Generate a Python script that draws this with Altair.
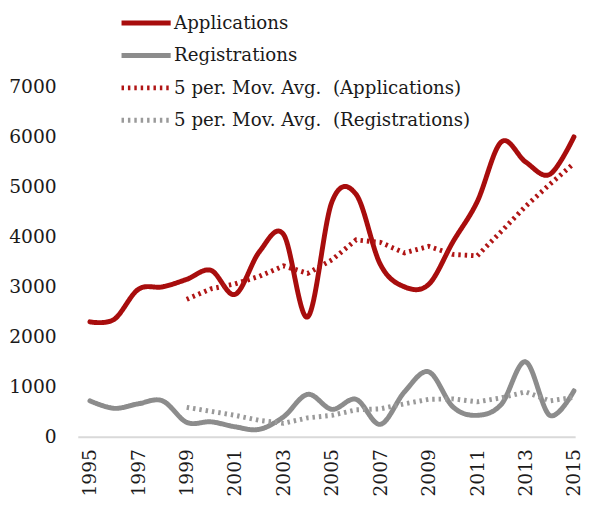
import altair as alt
import pandas as pd

years = list(range(1995, 2016))
applications = [2300, 2350, 2950, 3000, 3150, 3330, 2850, 3700, 4050, 2400, 4700,
                4850, 3450, 3000, 3050, 3900, 4700, 5900, 5500, 5250, 6000]
registrations = [720, 570, 660, 720, 290, 300, 200, 150, 400, 850, 550,
                 750, 250, 900, 1300, 600, 430, 650, 1500, 430, 920]
ma_years = list(range(1999, 2016))
ma_applications = [2750, 2960, 3060, 3210, 3420, 3270, 3540, 3940, 3890, 3680,
                   3810, 3650, 3620, 4110, 4610, 5050, 5470]
ma_registrations = [590, 510, 430, 330, 270, 380, 430, 540, 560, 660,
                    750, 760, 700, 780, 900, 720, 790]

names = ["Applications", "Registrations",
         "5 per. Mov. Avg.\u00a0 (Applications)", "5 per. Mov. Avg.\u00a0 (Registrations)"]
colors = ["#A80D0D", "#8C8C8C", "#B01515", "#9A9A9A"]
dashes = [[1, 0], [1, 0], [2.5, 4], [2.5, 4]]
widths = [5, 5, 2.5, 2.5]

rows = []
for y, v in zip(years, applications):
    rows.append({"year": y, "value": v, "series": names[0], "kind": "raw"})
for y, v in zip(years, registrations):
    rows.append({"year": y, "value": v, "series": names[1], "kind": "raw"})
for y, v in zip(ma_years, ma_applications):
    rows.append({"year": y, "value": v, "series": names[2], "kind": "ma"})
for y, v in zip(ma_years, ma_registrations):
    rows.append({"year": y, "value": v, "series": names[3], "kind": "ma"})
df = pd.DataFrame(rows)

legend = alt.Legend(
    title=None, orient="none", legendX=42, legendY=0, padding=0,
    symbolType="stroke", symbolSize=2500, clipHeight=22, rowPadding=11,
    labelFont="DejaVu Serif", labelFontSize=18.5, labelColor="#1a1a1a",
    labelOffset=1, labelLimit=0,
)

x_enc = alt.X("year:Q",
              scale=alt.Scale(domain=[1994.5, 2015.05], nice=False, zero=False),
              axis=alt.Axis(values=list(range(1995, 2016, 2)), format="d",
                            labelAngle=270, grid=False, ticks=False,
                            domainColor="#d9d9d9", domainWidth=2,
                            labelPadding=12, title=None,
                            labelFont="DejaVu Serif", labelFontSize=19,
                            labelColor="#1a1a1a"))
y_enc = alt.Y("value:Q",
              scale=alt.Scale(domain=[0, 8494], nice=False),
              axis=alt.Axis(values=list(range(0, 8000, 1000)), format="d",
                            grid=False, ticks=False, domain=False,
                            labelPadding=22, title=None,
                            labelFont="DejaVu Serif", labelFontSize=19,
                            labelColor="#1a1a1a"))
color_enc = alt.Color("series:N", scale=alt.Scale(domain=names, range=colors),
                      legend=legend, sort=names)
dash_enc = alt.StrokeDash("series:N", scale=alt.Scale(domain=names, range=dashes),
                          legend=legend, sort=names)
width_enc = alt.StrokeWidth("series:N", scale=alt.Scale(domain=names, range=widths),
                            legend=legend, sort=names)

base = alt.Chart(df).encode(x=x_enc, y=y_enc, color=color_enc,
                            strokeDash=dash_enc, strokeWidth=width_enc)

raw = base.transform_filter(alt.datum.kind == "raw").mark_line(
    interpolate="cardinal", strokeCap="round", strokeJoin="round")
ma = base.transform_filter(alt.datum.kind == "ma").mark_line()

chart = alt.layer(raw, ma).properties(
    width=506, height=432, padding=0
).configure_view(stroke=None)

chart.save("out.html", embed_options={"renderer": "svg", "actions": False})
